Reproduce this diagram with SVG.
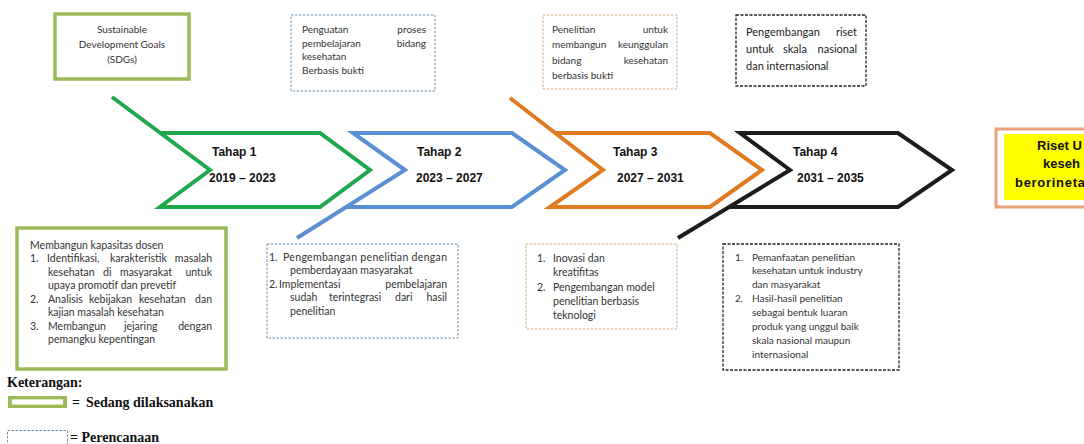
<svg xmlns="http://www.w3.org/2000/svg" width="1084" height="444" viewBox="0 0 1084 444">
<style>
.bg{fill:#ffffff}
.chev{fill:none;stroke-width:4;stroke-linejoin:miter;stroke-linecap:butt}
.t{font-family:Lato,"Liberation Sans",Arial,sans-serif;font-size:10.5px;fill:#333}
.ts{font-family:Lato,"Liberation Sans",Arial,sans-serif;font-size:10px;fill:#333}
.tb{font-family:Lato,"Liberation Sans",Arial,sans-serif;font-size:11px;fill:#222}
.lab{font-family:"Liberation Sans",Arial,sans-serif;font-size:12px;font-weight:bold;fill:#111}
.goal{font-family:"Liberation Sans",Arial,sans-serif;font-size:13px;font-weight:bold;fill:#111}
.leg{font-family:"Liberation Serif","Times New Roman",serif;font-size:14px;font-weight:bold;fill:#111}
.e{text-anchor:end}
.m{text-anchor:middle}
.olive{fill:#fff;stroke:#9bbb59;stroke-width:3.5}
.dblue{fill:#fff;stroke:#6a8fae;stroke-width:1;stroke-dasharray:2.5 1.5}
.dorange{fill:#fff;stroke:#d6ab7e;stroke-width:1;stroke-dasharray:2.5 1.5}
.dblack{fill:#fff;stroke:#222;stroke-width:1.3;stroke-dasharray:3 1.5}
</style>
<rect class="bg" x="0" y="0" width="1084" height="444"/>

<g id="tahap1">
<path class="chev" stroke="#1fa84b" d="M112,97 L210,170 L160,207 L320,207 L370,170 L320,133 L160,133"/>
<text class="lab" x="212" y="155.5">Tahap 1</text>
<text class="lab" x="209" y="181.5">2019 – 2023</text>
</g>
<g id="tahap2">
<path class="chev" stroke="#5b8fd4" d="M297,238 L405,170 L353,133 L512,133 L565,170 L512,207 L346,207"/>
<text class="lab" x="417" y="155.5">Tahap 2</text>
<text class="lab" x="416" y="181.5">2023 – 2027</text>
</g>
<g id="tahap3">
<path class="chev" stroke="#e07b22" d="M510,98 L603,170 L550,207 L710,207 L762,170 L710,133 L555,133"/>
<text class="lab" x="613" y="155.5">Tahap 3</text>
<text class="lab" x="617" y="181.5">2027 – 2031</text>
</g>
<g id="tahap4">
<path class="chev" stroke="#1c1c1c" d="M678,238 L790,170 L740,133 L898,133 L952,170 L898,207 L729,207"/>
<text class="lab" x="793" y="155.5">Tahap 4</text>
<text class="lab" x="797" y="181.5">2031 – 2035</text>
</g>

<g id="sdgs">
<rect class="olive" x="55" y="14" width="134" height="65"/>
<text class="ts m" x="122" y="33">Sustainable</text>
<text class="ts m" x="122" y="47.5">Development Goals</text>
<text class="ts m" x="122" y="63">(SDGs)</text>
</g>

<g id="top2">
<rect class="dblue" x="291" y="15" width="144" height="76"/>
<text class="ts" x="302" y="33">Penguatan</text><text class="ts e" x="426" y="33">proses</text>
<text class="ts" x="302" y="46.5">pembelajaran</text><text class="ts e" x="426" y="46.5">bidang</text>
<text class="ts" x="302" y="60">kesehatan</text>
<text class="ts" x="302" y="73.5">Berbasis bukti</text>
</g>

<g id="top3">
<rect class="dorange" x="543" y="15" width="134" height="74"/>
<text class="ts" x="552" y="32.5">Penelitian</text><text class="ts e" x="668" y="32.5">untuk</text>
<text class="ts" x="552" y="48">membangun</text><text class="ts e" x="668" y="48">keunggulan</text>
<text class="ts" x="552" y="63.5">bidang</text><text class="ts e" x="668" y="63.5">kesehatan</text>
<text class="ts" x="552" y="79">berbasis bukti</text>
</g>

<g id="top4">
<rect class="dblack" x="736" y="15" width="130" height="71"/>
<text class="tb" x="746" y="36">Pengembangan</text><text class="tb e" x="857" y="36">riset</text>
<text class="tb" x="746" y="53">untuk</text><text class="tb" x="783" y="53">skala</text><text class="tb e" x="857" y="53">nasional</text>
<text class="tb" x="746" y="70">dan internasional</text>
</g>

<g id="goal">
<rect x="996" y="129" width="100" height="78" fill="#fff" stroke="#e9a27e" stroke-width="3"/>
<rect x="1004" y="134" width="90" height="66" fill="#ffff00"/>
<text class="goal" x="1037" y="149.5">Riset U</text>
<text class="goal" x="1043" y="168">keseh</text>
<text class="goal" x="1015" y="186.5" textLength="70" lengthAdjust="spacing">berorineta</text>
</g>

<g id="bottom1">
<rect class="olive" x="17" y="228" width="209" height="141"/>
<text class="t" x="30" y="248.5">Membangun kapasitas dosen</text>
<text class="t" x="30" y="262">1.</text>
<text class="t" x="47" y="262">Identifikasi,</text><text class="t" x="110" y="262">karakteristik</text><text class="t e" x="212" y="262">masalah</text>
<text class="t" x="48" y="275.5">kesehatan</text><text class="t" x="103" y="275.5">di</text><text class="t" x="120" y="275.5">masyarakat</text><text class="t e" x="212" y="275.5">untuk</text>
<text class="t" x="48" y="289">upaya promotif dan prevetif</text>
<text class="t" x="30" y="302.5">2.</text>
<text class="t" x="48" y="302.5">Analisis</text><text class="t" x="89" y="302.5">kebijakan</text><text class="t" x="139" y="302.5">kesehatan</text><text class="t e" x="212" y="302.5">dan</text>
<text class="t" x="48" y="316">kajian masalah kesehatan</text>
<text class="t" x="30" y="329.5">3.</text>
<text class="t" x="48" y="329.5">Membangun</text><text class="t" x="124" y="329.5">jejaring</text><text class="t e" x="212" y="329.5">dengan</text>
<text class="t" x="48" y="343">pemangku kepentingan</text>
</g>

<g id="bottom2">
<rect class="dblue" x="267" y="244" width="191" height="94"/>
<text class="t" x="269" y="260.5">1.</text>
<text class="t" x="283" y="260.5" textLength="164" lengthAdjust="spacing">Pengembangan penelitian dengan</text>
<text class="t" x="290" y="273.5">pemberdayaan masyarakat</text>
<text class="t" x="269" y="287.5">2.</text>
<text class="t" x="279" y="287.5">Implementasi</text><text class="t e" x="447" y="287.5">pembelajaran</text>
<text class="t" x="290" y="301">sudah</text><text class="t" x="329" y="301">terintegrasi</text><text class="t" x="395" y="301">dari</text><text class="t e" x="447" y="301">hasil</text>
<text class="t" x="290" y="314.5">penelitian</text>
</g>

<g id="bottom3">
<rect class="dorange" x="526" y="244" width="151" height="85"/>
<text class="t" x="537" y="262">1.</text>
<text class="t" x="553" y="262">Inovasi dan</text>
<text class="t" x="553" y="276">kreatifitas</text>
<text class="t" x="537" y="291">2.</text>
<text class="t" x="553" y="291">Pengembangan model</text>
<text class="t" x="553" y="305">penelitian berbasis</text>
<text class="t" x="553" y="319">teknologi</text>
</g>

<g id="bottom4">
<rect class="dblack" x="723" y="244" width="176" height="126"/>
<text class="ts" x="735" y="260.5">1.</text>
<text class="ts" x="752" y="260.5">Pemanfaatan penelitian</text>
<text class="ts" x="752" y="274">kesehatan untuk industry</text>
<text class="ts" x="752" y="287.5">dan masyarakat</text>
<text class="ts" x="735" y="301.5">2.</text>
<text class="ts" x="752" y="301.5">Hasil-hasil penelitian</text>
<text class="ts" x="752" y="315.5">sebagai bentuk luaran</text>
<text class="ts" x="752" y="329.5">produk yang unggul baik</text>
<text class="ts" x="752" y="343.5">skala nasional maupun</text>
<text class="ts" x="752" y="357.5">internasional</text>
</g>

<g id="legend">
<text class="leg" x="7" y="387">Keterangan:</text>
<rect x="8" y="396" width="59" height="12" fill="#9bbb59"/>
<rect x="11.5" y="399" width="52" height="6" fill="#fff" stroke="#9bbb59" stroke-width="0.8"/>
<text class="leg" x="72" y="407">=</text>
<text class="leg" x="86" y="407">Sedang dilaksanakan</text>
<rect class="dblue" x="7.5" y="430.5" width="60" height="20"/>
<text class="leg" x="70" y="442">= Perencanaan</text>
</g>
</svg>
